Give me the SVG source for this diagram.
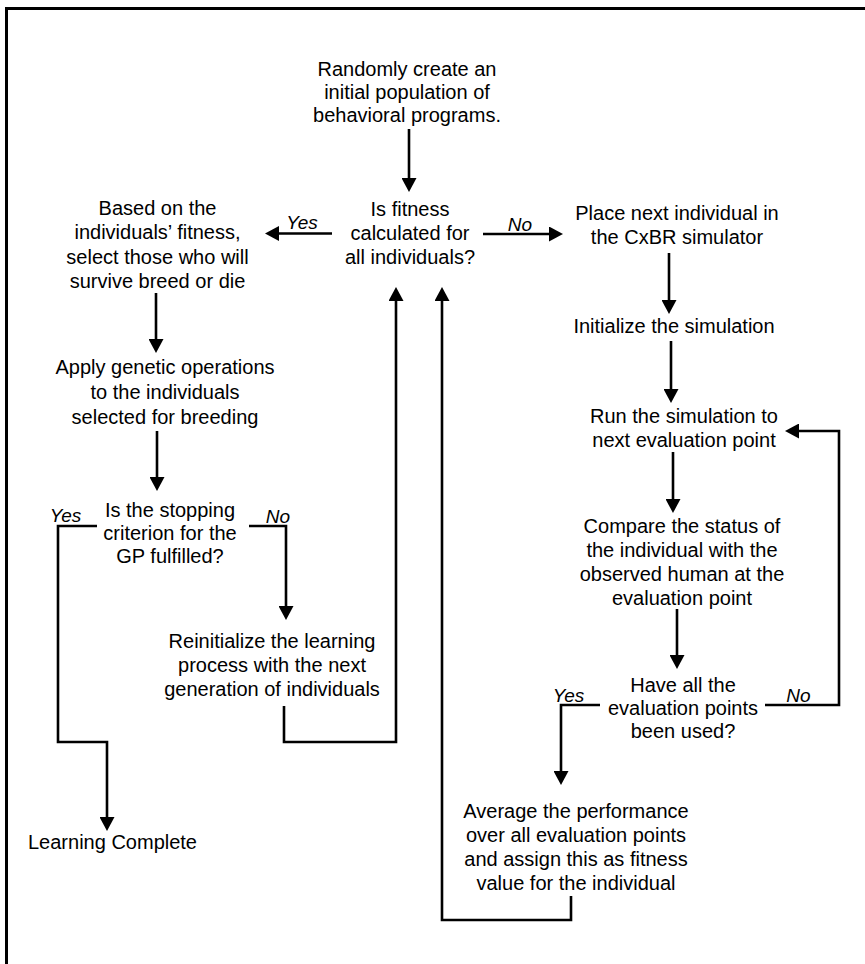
<svg xmlns="http://www.w3.org/2000/svg" width="865" height="964" viewBox="0 0 865 964">
<defs>
<style>
text{font-family:"Liberation Sans",Arial,sans-serif;font-size:20px;fill:#000;text-anchor:middle}
.lbl{font-size:19px;font-style:italic}
.c{fill:none;stroke:#000;stroke-width:2.6}
.frame{fill:none;stroke:#000;stroke-width:3}
</style>
<marker id="ah" markerUnits="userSpaceOnUse" viewBox="0 0 14 15" markerWidth="14" markerHeight="15" refX="10" refY="7.5" orient="auto">
<path d="M0,0 L14,7.5 L0,15 z" fill="#000"/>
</marker>
</defs>
<rect width="865" height="964" fill="#fff"/>
<path class="frame" d="M6.5,964 V8.5 H865"/>

<g id="connectors">
<path class="c" marker-end="url(#ah)" d="M409,129 V188"/>
<path class="c" marker-end="url(#ah)" d="M332,233.5 H269"/>
<path class="c" marker-end="url(#ah)" d="M483,234 H559"/>
<path class="c" marker-end="url(#ah)" d="M156,293 V349"/>
<path class="c" marker-end="url(#ah)" d="M157,431 V487"/>
<path class="c" marker-end="url(#ah)" d="M97,526 H58 V742 H107 V827"/>
<path class="c" marker-end="url(#ah)" d="M249,526 H286 V616"/>
<path class="c" marker-end="url(#ah)" d="M284,706 V742 H396 V291"/>
<path class="c" marker-end="url(#ah)" d="M571,896 V920 H442 V291"/>
<path class="c" marker-end="url(#ah)" d="M669,253 V310"/>
<path class="c" marker-end="url(#ah)" d="M671,341 V399"/>
<path class="c" marker-end="url(#ah)" d="M673,452 V509"/>
<path class="c" marker-end="url(#ah)" d="M677,609 V665"/>
<path class="c" marker-end="url(#ah)" d="M765,705 H839 V431 H789"/>
<path class="c" marker-end="url(#ah)" d="M600,705 H561 V781"/>
<text class="lbl" x="302" y="229">Yes</text>
<text class="lbl" x="520" y="230.5">No</text>
<text class="lbl" x="65.5" y="521.5">Yes</text>
<text class="lbl" x="278" y="523">No</text>
<text class="lbl" x="568.5" y="701.5">Yes</text>
<text class="lbl" x="798.5" y="701.5">No</text>
</g>

<g id="n-init">
<text x="407" y="76">Randomly create an</text>
<text x="407" y="99">initial population of</text>
<text x="407" y="122">behavioral programs.</text>
</g>
<g id="n-fitness">
<text x="410" y="216">Is fitness</text>
<text x="410" y="240">calculated for</text>
<text x="410" y="264">all individuals?</text>
</g>
<g id="n-select">
<text x="157.5" y="215">Based on the</text>
<text x="157.5" y="239">individuals’ fitness,</text>
<text x="157.5" y="264">select those who will</text>
<text x="157.5" y="288">survive breed or die</text>
</g>
<g id="n-apply">
<text x="165" y="374">Apply genetic operations</text>
<text x="165" y="399">to the individuals</text>
<text x="165" y="424">selected for breeding</text>
</g>
<g id="n-stop">
<text x="170" y="517">Is the stopping</text>
<text x="170" y="540">criterion for the</text>
<text x="170" y="563">GP fulfilled?</text>
</g>
<g id="n-reinit">
<text x="272" y="648">Reinitialize the learning</text>
<text x="272" y="672">process with the next</text>
<text x="272" y="696">generation of individuals</text>
</g>
<g id="n-complete">
<text x="28" y="849" style="text-anchor:start">Learning Complete</text>
</g>
<g id="n-place">
<text x="677" y="220">Place next individual in</text>
<text x="677" y="244">the CxBR simulator</text>
</g>
<g id="n-initsim">
<text x="674" y="333">Initialize the simulation</text>
</g>
<g id="n-run">
<text x="684" y="423">Run the simulation to</text>
<text x="684" y="447">next evaluation point</text>
</g>
<g id="n-compare">
<text x="682" y="533">Compare the status of</text>
<text x="682" y="557">the individual with the</text>
<text x="682" y="581">observed human at the</text>
<text x="682" y="605">evaluation point</text>
</g>
<g id="n-allused">
<text x="683" y="692">Have all the</text>
<text x="683" y="715">evaluation points</text>
<text x="683" y="738">been used?</text>
</g>
<g id="n-average">
<text x="576" y="818">Average the performance</text>
<text x="576" y="842">over all evaluation points</text>
<text x="576" y="866">and assign this as fitness</text>
<text x="576" y="890">value for the individual</text>
</g>
</svg>
